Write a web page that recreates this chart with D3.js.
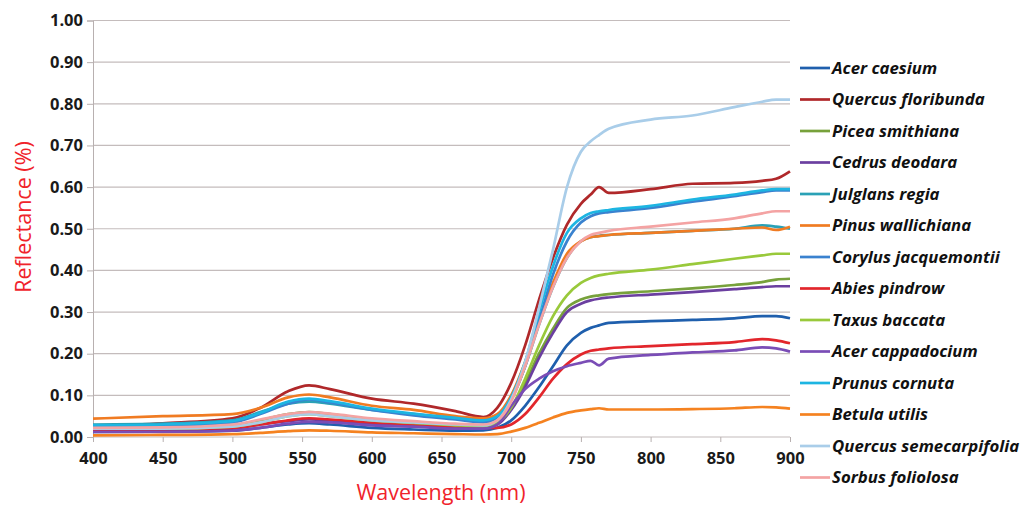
<!DOCTYPE html>
<html><head><meta charset="utf-8">
<script src="https://cdn.jsdelivr.net/npm/d3@7"></script>
<style>body{margin:0;background:#fff}svg{display:block}</style>
</head><body><svg id="c" width="1022" height="506"></svg>
<script>
const wavelengths = [400,450,500,520,540,555,570,600,630,660,680,690,700,710,720,730,740,750,757,763,770,800,830,860,880,890,900];
const species = ["Acer caesium","Quercus floribunda","Picea smithiana","Cedrus deodara","Julglans regia","Pinus wallichiana","Corylus jacquemontii","Abies pindrow","Taxus baccata","Acer cappadocium","Prunus cornuta","Betula utilis","Quercus semecarpifolia","Sorbus foliolosa"];
const colors = ["#1f5fad","#b0282a","#77a13b","#6b3fa0","#2aa1b6","#f07b22","#3a82cf","#e2262c","#99c93b","#7a4db6","#1db5e2","#f58220","#a9cde9","#f4a3a3"];
const acerCaesium = [0.012,0.013,0.015,0.022,0.030,0.033,0.030,0.022,0.018,0.015,0.016,0.022,0.040,0.075,0.120,0.170,0.220,0.250,0.262,0.268,0.274,0.278,0.281,0.285,0.290,0.290,0.285];
const quercusFloribunda = [0.025,0.033,0.045,0.070,0.110,0.124,0.115,0.092,0.080,0.062,0.048,0.070,0.130,0.220,0.330,0.430,0.510,0.560,0.582,0.600,0.586,0.595,0.608,0.610,0.615,0.620,0.638];
const piceaSmithiana = [0.020,0.022,0.028,0.040,0.055,0.060,0.055,0.042,0.035,0.028,0.026,0.035,0.070,0.130,0.200,0.260,0.310,0.330,0.337,0.340,0.343,0.350,0.357,0.365,0.372,0.378,0.380];
const cedrusDeodara = [0.015,0.016,0.020,0.030,0.038,0.042,0.040,0.032,0.028,0.024,0.024,0.030,0.065,0.120,0.190,0.250,0.300,0.320,0.328,0.332,0.335,0.342,0.348,0.355,0.360,0.362,0.362];
const julglansRegia = [0.030,0.032,0.040,0.060,0.080,0.085,0.080,0.065,0.055,0.045,0.040,0.050,0.090,0.170,0.270,0.360,0.430,0.470,0.480,0.483,0.485,0.490,0.495,0.500,0.508,0.505,0.500];
const pinusWallichiana = [0.044,0.050,0.055,0.070,0.095,0.102,0.095,0.075,0.065,0.050,0.045,0.055,0.100,0.180,0.280,0.370,0.440,0.470,0.480,0.482,0.485,0.490,0.495,0.500,0.503,0.497,0.505];
const corylusJacquemontii = [0.025,0.027,0.035,0.055,0.080,0.090,0.083,0.065,0.052,0.042,0.035,0.045,0.090,0.170,0.280,0.390,0.470,0.515,0.530,0.537,0.540,0.550,0.565,0.578,0.588,0.592,0.592];
const abiesPindrow = [0.018,0.019,0.022,0.030,0.040,0.045,0.042,0.035,0.030,0.025,0.022,0.022,0.030,0.055,0.095,0.140,0.175,0.198,0.207,0.210,0.213,0.218,0.223,0.228,0.235,0.232,0.225];
const taxusBaccata = [0.020,0.020,0.025,0.035,0.050,0.055,0.050,0.040,0.034,0.028,0.026,0.035,0.070,0.140,0.220,0.290,0.340,0.370,0.382,0.388,0.392,0.402,0.415,0.428,0.436,0.440,0.440];
const acerCappadocium = [0.012,0.012,0.015,0.022,0.032,0.036,0.035,0.028,0.025,0.020,0.020,0.030,0.075,0.115,0.140,0.158,0.170,0.178,0.183,0.172,0.188,0.197,0.203,0.208,0.215,0.213,0.205];
const prunusCornuta = [0.028,0.030,0.038,0.058,0.085,0.092,0.086,0.068,0.056,0.046,0.040,0.050,0.095,0.180,0.300,0.410,0.490,0.525,0.538,0.542,0.545,0.555,0.570,0.582,0.592,0.595,0.595];
const betulaUtilis = [0.004,0.005,0.007,0.010,0.014,0.016,0.015,0.011,0.009,0.007,0.006,0.007,0.013,0.022,0.034,0.047,0.058,0.064,0.067,0.069,0.066,0.066,0.067,0.069,0.072,0.071,0.068];
const quercusSemecarpifolia = [0.020,0.020,0.025,0.035,0.050,0.055,0.050,0.040,0.035,0.030,0.028,0.040,0.090,0.180,0.310,0.450,0.600,0.685,0.710,0.725,0.740,0.762,0.772,0.792,0.805,0.810,0.810];
const sorbusFoliolosa = [0.022,0.023,0.030,0.042,0.055,0.060,0.056,0.045,0.038,0.032,0.030,0.040,0.085,0.170,0.270,0.360,0.430,0.470,0.485,0.490,0.495,0.505,0.515,0.525,0.537,0.542,0.542];
const seriesValues = [acerCaesium,quercusFloribunda,piceaSmithiana,cedrusDeodara,julglansRegia,pinusWallichiana,corylusJacquemontii,abiesPindrow,taxusBaccata,acerCappadocium,prunusCornuta,betulaUtilis,quercusSemecarpifolia,sorbusFoliolosa];
const xTicks = [400,450,500,550,600,650,700,750,800,850,900];
const yTicks = [0,0.1,0.2,0.3,0.4,0.5,0.6,0.7,0.8,0.9,1.0];

const svg = d3.select("#c");
const x = d3.scaleLinear().domain([400,900]).range([93,790]);
const y = d3.scaleLinear().domain([0,1]).range([437,20.5]);

// gridlines
svg.append("g").selectAll("line").data(yTicks).join("line")
  .attr("x1",x(400)).attr("x2",x(900)).attr("y1",d=>y(d)).attr("y2",d=>y(d))
  .attr("stroke","#c4bcbc").attr("stroke-width",1.2);

// y axis
const yAxis = svg.append("g").attr("transform",`translate(${x(400)},0)`)
  .call(d3.axisLeft(y).tickValues(yTicks).tickFormat(d3.format(".2f")).tickSize(6).tickPadding(4));
yAxis.select(".domain").attr("stroke","#b8b0b0");
yAxis.selectAll(".tick line").attr("stroke","#b8b0b0");
yAxis.selectAll("text").attr("font-family","Open Sans").attr("font-weight","bold").attr("font-size","16.5px").attr("fill","#1a1a1a");

// x axis
const xAxis = svg.append("g").attr("transform",`translate(0,${y(0)})`)
  .call(d3.axisBottom(x).tickValues(xTicks).tickSize(5).tickPadding(10));
xAxis.select(".domain").remove();
xAxis.selectAll(".tick line").attr("stroke","#b8b0b0");
xAxis.selectAll("text").attr("font-family","Open Sans").attr("font-weight","bold").attr("font-size","16.5px").attr("fill","#1a1a1a");

// lines
const line = d3.line().x((d,i)=>x(wavelengths[i])).y(d=>y(d)).curve(d3.curveMonotoneX);
svg.append("g").selectAll("path").data(seriesValues).join("path")
  .attr("d",d=>line(d)).attr("fill","none")
  .attr("stroke",(d,i)=>colors[i]).attr("stroke-width",2.7).attr("stroke-linejoin","round");

// axis titles
svg.append("text").attr("x",441).attr("y",500).attr("text-anchor","middle")
  .attr("font-family","Open Sans").attr("font-size","21.5px").attr("fill","#f0232b").text("Wavelength (nm)");
svg.append("text").attr("transform","translate(31,217) rotate(-90)").attr("text-anchor","middle")
  .attr("font-family","Open Sans").attr("font-size","21.5px").attr("fill","#f0232b").text("Reflectance (%)");

// legend
const lg = svg.append("g").selectAll("g").data(species).join("g")
  .attr("transform",(d,i)=>`translate(800,${68+i*31.5})`);
lg.append("line").attr("x1",0).attr("x2",30).attr("stroke",(d,i)=>colors[i]).attr("stroke-width",2.7);
lg.append("text").attr("x",32).attr("dy","0.35em")
  .attr("font-family","Open Sans").attr("font-weight","bold").attr("font-style","italic")
  .attr("font-size","16.8px").attr("fill","#111").text(d=>d);
</script></body></html>
